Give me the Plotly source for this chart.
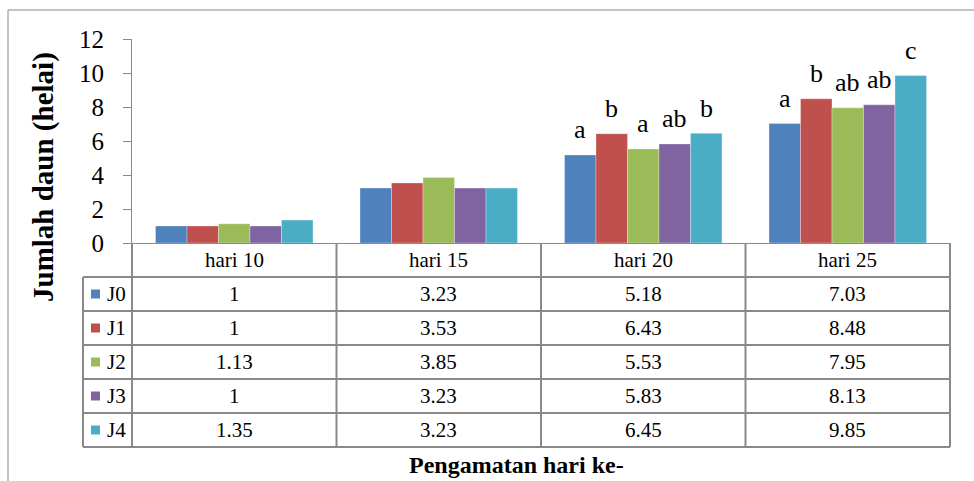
import plotly.graph_objects as go

# ---- data ----
categories = ["hari 10", "hari 15", "hari 20", "hari 25"]
series_names = ["J0", "J1", "J2", "J3", "J4"]
J0 = [1, 3.23, 5.18, 7.03]
J1 = [1, 3.53, 6.43, 8.48]
J2 = [1.13, 3.85, 5.53, 7.95]
J3 = [1, 3.23, 5.83, 8.13]
J4 = [1.35, 3.23, 6.45, 9.85]
series_values = [J0, J1, J2, J3, J4]
letters_hari20 = ["a", "b", "a", "ab", "b"]
letters_hari25 = ["a", "b", "ab", "ab", "c"]
letter_categories = {2: letters_hari20, 3: letters_hari25}
y_ticks = [0, 2, 4, 6, 8, 10, 12]
y_title = "Jumlah daun (helai)"
x_title = "Pengamatan hari ke-"

colors = ["#4F81BD", "#C0504D", "#9BBB59", "#8064A2", "#4BACC6"]

W, H = 974, 481
FONT = "Liberation Serif"
LINE = "#898989"

def px(x):
    return x / W

def py(y):
    return 1 - y / H

# plot area geometry (pixels)
PL, PR = 132, 950
PT, PB = 39, 243
LEG_L = 83
ROW_H = 34
n_cat = len(categories)
col_w = (PR - PL) / n_cat

fig = go.Figure()
for name, vals, c in zip(series_names, series_values, colors):
    fig.add_trace(go.Bar(
        name=name, x=categories, y=vals,
        marker=dict(color=c, line=dict(color="rgba(255,255,255,0.5)", width=0.6)),
        showlegend=False,
    ))

BARGAP = 0.23
fig.update_layout(
    width=W, height=H,
    margin=dict(l=0, r=0, t=0, b=0, autoexpand=False),
    paper_bgcolor="white", plot_bgcolor="white",
    barmode="group", bargap=BARGAP, bargroupgap=0,
    font=dict(family=FONT, color="#000000"),
    showlegend=False,
    xaxis=dict(
        domain=[px(PL), px(PR)], showticklabels=False, ticks="",
        showline=True, linecolor=LINE, linewidth=1, showgrid=False,
        range=[-0.5, n_cat - 0.5], zeroline=False, automargin=False,
    ),
    yaxis=dict(
        domain=[py(PB), py(PT)], range=[0, 12], tickvals=y_ticks,
        ticks="outside", ticklen=8, tickcolor=LINE, tickwidth=1,
        ticklabelstandoff=14,
        showline=True, linecolor=LINE, linewidth=1, showgrid=False,
        zeroline=False, automargin=False,
        tickfont=dict(family=FONT, size=25, color="#000"),
    ),
)

shapes = []
# outer chart border
shapes.append(dict(type="rect", xref="paper", yref="paper",
                   x0=px(8), y0=-0.05, x1=1.05, y1=py(10),
                   line=dict(color=LINE, width=1)))
# table horizontal lines
n_rows = len(series_names)
table_bottom = PB + ROW_H * (n_rows + 1)
for r in range(1, n_rows + 2):
    y = PB + r * ROW_H
    shapes.append(dict(type="line", xref="paper", yref="paper",
                       x0=px(LEG_L), x1=px(PR), y0=py(y), y1=py(y),
                       line=dict(color=LINE, width=2)))
# table vertical lines
shapes.append(dict(type="line", xref="paper", yref="paper",
                   x0=px(LEG_L), x1=px(LEG_L), y0=py(PB + ROW_H), y1=py(table_bottom),
                   line=dict(color=LINE, width=2)))
for k in range(n_cat + 1):
    x = PL + k * col_w
    shapes.append(dict(type="line", xref="paper", yref="paper",
                       x0=px(x), x1=px(x), y0=py(PB), y1=py(table_bottom),
                       line=dict(color=LINE, width=2)))
# legend keys
for r, c in enumerate(colors):
    cy = PB + ROW_H * (r + 1) + ROW_H / 2
    shapes.append(dict(type="rect", xref="paper", yref="paper",
                       x0=px(91), x1=px(100), y0=py(cy + 4.5), y1=py(cy - 4.5),
                       fillcolor=c, line=dict(width=0)))
fig.update_layout(shapes=shapes)

ann = []
TF = dict(family=FONT, size=21, color="#000")
# header row
for k, cat in enumerate(categories):
    ann.append(dict(xref="paper", yref="paper", x=px(PL + (k + 0.5) * col_w),
                    y=py(PB + ROW_H / 2), text=cat, showarrow=False, font=TF,
                    xanchor="center", yanchor="middle"))
# values
for r, (name, vals) in enumerate(zip(series_names, series_values)):
    cy = PB + ROW_H * (r + 1) + ROW_H / 2
    ann.append(dict(xref="paper", yref="paper", x=px(105), y=py(cy), text=name,
                    showarrow=False, font=TF, xanchor="left", yanchor="middle"))
    for k, v in enumerate(vals):
        ann.append(dict(xref="paper", yref="paper", x=px(PL + (k + 0.5) * col_w),
                        y=py(cy), text=f"{v:g}", showarrow=False, font=TF,
                        xanchor="center", yanchor="middle"))
# significance letters
bw = (1 - BARGAP) / len(series_names)
for k, lets in letter_categories.items():
    for i, t in enumerate(lets):
        ann.append(dict(xref="x", yref="y", x=k + (i - 2) * bw,
                        y=series_values[i][k], yshift=25, text=t, showarrow=False,
                        font=dict(family=FONT, size=26, color="#000"),
                        xanchor="center", yanchor="middle"))
# axis titles
ann.append(dict(xref="paper", yref="paper", x=px(44), y=py(177), text=f"<b>{y_title}</b>",
                textangle=-90, showarrow=False,
                font=dict(family=FONT, size=29, color="#000"),
                xanchor="center", yanchor="middle"))
ann.append(dict(xref="paper", yref="paper", x=px(516), y=py(465), text=f"<b>{x_title}</b>",
                showarrow=False, font=dict(family=FONT, size=24, color="#000"),
                xanchor="center", yanchor="middle"))
fig.update_layout(annotations=ann)

fig.write_html("out.html", config={"displayModeBar": False},
               post_script="document.body.style.margin='0';document.body.style.overflow='hidden';")
